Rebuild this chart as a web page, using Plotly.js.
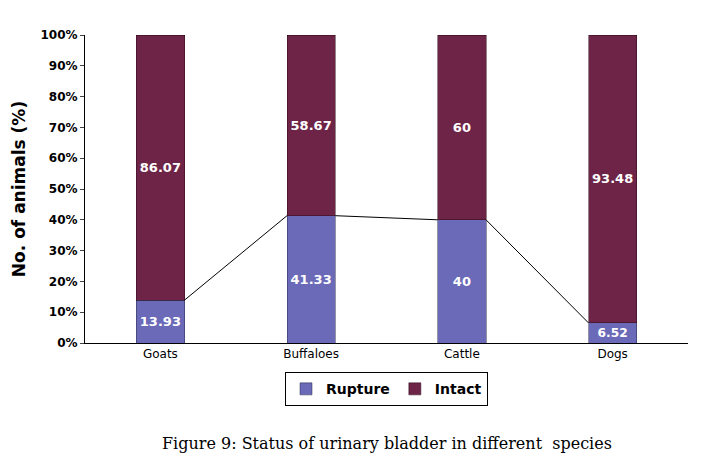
<!DOCTYPE html>
<html>
<head>
<meta charset="utf-8">
<script src="https://cdn.plot.ly/plotly-3.0.1.min.js"></script>
<style>body{margin:0;background:#fff}</style>
</head>
<body>
<div id="chart" style="width:715px;height:462px"></div>
<script>
var species = ['Goats', 'Buffaloes', 'Cattle', 'Dogs'];
var rupture = [13.93, 41.33, 40, 6.52];
var intact = [86.07, 58.67, 60, 93.48];

var xs = species.map(function (s, i) { return i; });
var barW = 0.32;

// series lines between rupture bar tops
var lx = [], ly = [];
for (var i = 0; i < xs.length - 1; i++) {
  lx.push(xs[i] + barW / 2, xs[i + 1] - barW / 2, null);
  ly.push(rupture[i], rupture[i + 1], null);
}

var data = [
  {
    type: 'bar', name: 'Rupture', x: xs, y: rupture, width: barW,
    marker: {color: '#6a6ab8', line: {color: '#2a2a4a', width: 0.5}},
    text: rupture.map(String), textposition: 'inside', insidetextanchor: 'middle',
    textfont: {color: '#fff', size: 13, family: 'DejaVu Sans', weight: 'bold'}
  },
  {
    type: 'bar', name: 'Intact', x: xs, y: intact, width: barW,
    marker: {color: '#6e2447', line: {color: '#2a0a18', width: 0.5}},
    text: intact.map(String), textposition: 'inside', insidetextanchor: 'middle',
    textfont: {color: '#fff', size: 13, family: 'DejaVu Sans', weight: 'bold'}
  },
  {
    type: 'scatter', mode: 'lines', x: lx, y: ly, showlegend: false,
    hoverinfo: 'skip', line: {color: '#000', width: 1}
  }
];

var layout = {
  barmode: 'stack',
  margin: {l: 85, r: 27, t: 35, b: 119},
  paper_bgcolor: '#fff', plot_bgcolor: '#fff',
  font: {family: 'DejaVu Sans', color: '#000', size: 12},
  xaxis: {
    range: [-0.5, 3.5], tickvals: xs, ticktext: species, showgrid: false,
    showline: true, linecolor: '#000', ticks: 'outside', ticklen: 0,
    tickfont: {size: 12}, zeroline: false
  },
  yaxis: {
    range: [0, 100], dtick: 10, ticksuffix: '%', showgrid: false,
    showline: true, linecolor: '#000', ticks: 'outside', ticklen: 4,
    tickfont: {size: 12, weight: 'bold'}, zeroline: false,
    title: {text: 'No. of animals (%)', font: {size: 17, weight: 'bold'}, standoff: 10}
  },
  legend: {
    orientation: 'h', x: 0.5, xanchor: 'center', y: -0.095, yanchor: 'top',
    bordercolor: '#000', borderwidth: 1, font: {size: 14, weight: 'bold'},
    traceorder: 'normal', itemwidth: 30, tracegroupgap: 0
  },
  annotations: [{
    text: 'Figure 9: Status of urinary bladder in different  species',
    xref: 'paper', yref: 'paper', x: 0.5, y: -0.29, xanchor: 'center', yanchor: 'top',
    showarrow: false, font: {family: 'DejaVu Serif', size: 16}
  }]
};

Plotly.newPlot('chart', data, layout, {displayModeBar: false});
</script>
</body>
</html>
